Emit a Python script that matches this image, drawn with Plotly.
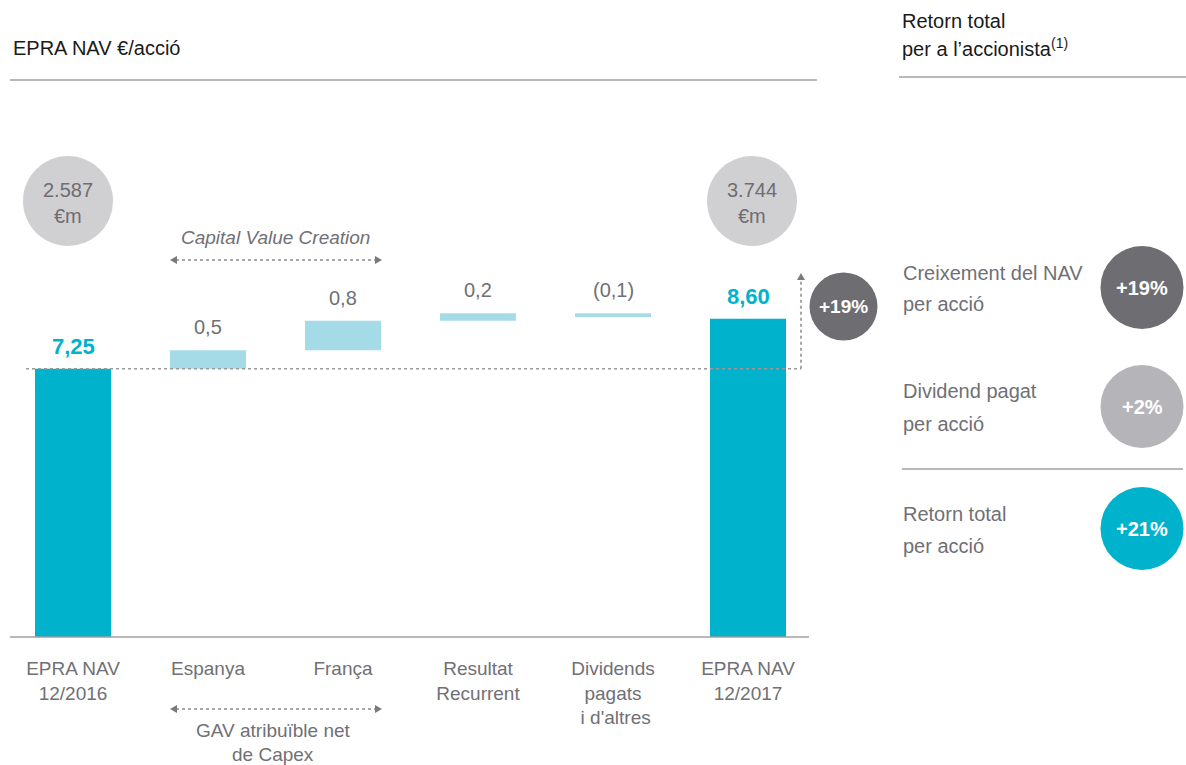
import plotly.graph_objects as go

# ---- data -------------------------------------------------------------
categories = [
    "EPRA NAV<br>12/2016",
    "Espanya",
    "França",
    "Resultat<br>Recurrent",
    "Dividends<br>pagats<br> i d'altres",
    "EPRA NAV<br>12/2017",
]
nav_start = 7.25
nav_end = 8.60
changes = [0.5, 0.8, 0.2, -0.1]          # Espanya, França, Resultat, Dividends
market_cap = ["2.587", "3.744"]          # €m, start / end
nav_growth = "+19%"
return_labels = [
    ["Creixement del NAV", "per acció"],
    ["Dividend pagat", "per acció"],
    ["Retorn total", "per acció"],
]
return_values = ["+19%", "+2%", "+21%"]

# ---- page geometry ----------------------------------------------------
W, H = 1186, 765
AXIS_Y = 637          # pixel row of the zero line
PX_PER_UNIT = 37.0

FONT = "Liberation Sans, Arial, Helvetica, sans-serif"
CYAN = "#00b2cc"
CYAN_LIGHT = "#a4dbe6"
GREY_TXT = "#707075"
GREY_DARK = "#6e6d72"
GREY_LIGHT = "#d0d0d2"
GREY_MID = "#b5b5b9"
RULE = "#a0a0a0"


def px(x):
    return x / W


def py(y):
    return 1 - y / H


def fmt(v, decimals=1):
    s = f"{abs(v):.{decimals}f}".replace(".", ",")
    return f"({s})" if v < 0 else s


# waterfall bases
bases, heights, tops = [], [], []
cum = nav_start
for c in changes:
    bases.append(min(cum, cum + c))
    heights.append(abs(c))
    tops.append(max(cum, cum + c))
    cum += c

fig = go.Figure()
fig.add_trace(go.Bar(
    x=[categories[0], categories[-1]],
    y=[nav_start, nav_end],
    marker=dict(color=CYAN, line=dict(width=0)),
    hoverinfo="skip",
))
fig.add_trace(go.Bar(
    x=categories[1:5],
    y=heights,
    base=bases,
    marker=dict(color=CYAN_LIGHT, line=dict(width=0)),
    hoverinfo="skip",
))

annotations = []
shapes = []

# value labels over the bars
annotations.append(dict(x=categories[0], y=nav_start, xref="x", yref="y",
                        text=f"<b>{fmt(nav_start, 2)}</b>", showarrow=False,
                        yanchor="bottom", yshift=8,
                        font=dict(family=FONT, size=22, color=CYAN)))
annotations.append(dict(x=categories[-1], y=nav_end, xref="x", yref="y",
                        text=f"<b>{fmt(nav_end, 2)}</b>", showarrow=False,
                        yanchor="bottom", yshift=8,
                        font=dict(family=FONT, size=22, color=CYAN)))
for cat, c, top in zip(categories[1:5], changes, tops):
    annotations.append(dict(x=cat, y=top, xref="x", yref="y",
                            text=fmt(c), showarrow=False,
                            yanchor="bottom", yshift=10,
                            font=dict(family=FONT, size=20, color=GREY_TXT)))

# titles
annotations.append(dict(x=px(11), y=py(48), xref="paper", yref="paper",
                        text="EPRA NAV €/acció", showarrow=False,
                        xanchor="left", yanchor="middle",
                        font=dict(family=FONT, size=20, color="#1a1a1a")))
annotations.append(dict(x=px(900), y=py(21), xref="paper", yref="paper",
                        text="Retorn total", showarrow=False,
                        xanchor="left", yanchor="middle",
                        font=dict(family=FONT, size=20, color="#1a1a1a")))
annotations.append(dict(x=px(900), y=py(47), xref="paper", yref="paper",
                        text="per a l’accionista<sup>(1)</sup>", showarrow=False,
                        xanchor="left", yanchor="middle",
                        font=dict(family=FONT, size=20, color="#1a1a1a")))

# rules
shapes.append(dict(type="line", xref="paper", yref="paper",
                   x0=px(10), x1=px(817), y0=py(80), y1=py(80),
                   line=dict(color=RULE, width=1.5)))
shapes.append(dict(type="line", xref="paper", yref="paper",
                   x0=px(899), x1=px(1186), y0=py(77), y1=py(77),
                   line=dict(color="#707070", width=1)))
shapes.append(dict(type="line", xref="paper", yref="paper",
                   x0=px(10), x1=px(809), y0=py(AXIS_Y), y1=py(AXIS_Y),
                   line=dict(color=RULE, width=1.5)))
shapes.append(dict(type="line", xref="paper", yref="paper",
                   x0=px(902), x1=px(1183), y0=py(469), y1=py(469),
                   line=dict(color=RULE, width=1.5)))

# reference line at the starting NAV and growth arrow
shapes.append(dict(type="line", xref="paper", yref="y",
                   x0=px(26), x1=px(801), y0=nav_start, y1=nav_start,
                   line=dict(color="#9a9a9a", width=1.5, dash="dot"),
                   layer="above"))
shapes.append(dict(type="line", xref="paper", yref="paper",
                   x0=px(801), x1=px(801), y0=py(AXIS_Y - nav_start * PX_PER_UNIT),
                   y1=py(280), line=dict(color="#8a8a8a", width=1.5, dash="dot")))


def tri(tip, direction):
    x, y = tip
    if direction == "up":
        pts = [(x, y), (x - 4, y + 7), (x + 4, y + 7)]
    elif direction == "left":
        pts = [(x, y), (x + 7, y - 4), (x + 7, y + 4)]
    else:
        pts = [(x, y), (x - 7, y - 4), (x - 7, y + 4)]
    path = "M " + " L ".join(f"{px(a):.5f},{py(b):.5f}" for a, b in pts) + " Z"
    return dict(type="path", xref="paper", yref="paper", path=path,
                fillcolor="#7a7a7a", line=dict(width=0))


shapes.append(tri((801, 273), "up"))

# double-headed dotted arrows above and below Espanya / França
for yy in (260, 709):
    shapes.append(dict(type="line", xref="paper", yref="paper",
                       x0=px(176), x1=px(376), y0=py(yy), y1=py(yy),
                       line=dict(color="#8a8a8a", width=1.3, dash="dot")))
    shapes.append(tri((170, yy), "left"))
    shapes.append(tri((382, yy), "right"))

annotations.append(dict(x=px(275), y=py(237), xref="paper", yref="paper",
                        text="<i>Capital Value Creation</i>", showarrow=False,
                        xanchor="center", yanchor="middle",
                        font=dict(family=FONT, size=19, color=GREY_TXT)))
annotations.append(dict(x=px(273), y=py(730), xref="paper", yref="paper",
                        text="GAV atribuïble net", showarrow=False,
                        xanchor="center", yanchor="middle",
                        font=dict(family=FONT, size=19, color=GREY_TXT)))
annotations.append(dict(x=px(273), y=py(754), xref="paper", yref="paper",
                        text="de Capex", showarrow=False,
                        xanchor="center", yanchor="middle",
                        font=dict(family=FONT, size=19, color=GREY_TXT)))


def circle(cx, cy, r, color):
    return dict(type="circle", xref="paper", yref="paper",
                x0=px(cx - r), x1=px(cx + r), y0=py(cy + r), y1=py(cy - r),
                fillcolor=color, line=dict(width=0), layer="above")


# market-cap bubbles
for (cx, cy), val in zip([(68, 201), (752, 201)], market_cap):
    shapes.append(circle(cx, cy, 45, GREY_LIGHT))
    annotations.append(dict(x=px(cx), y=py(190), xref="paper", yref="paper",
                            text=val, showarrow=False,
                            xanchor="center", yanchor="middle",
                            font=dict(family=FONT, size=20, color=GREY_DARK)))
    annotations.append(dict(x=px(cx), y=py(216), xref="paper", yref="paper",
                            text="€m", showarrow=False,
                            xanchor="center", yanchor="middle",
                            font=dict(family=FONT, size=20, color=GREY_DARK)))

# NAV growth bubble
shapes.append(circle(843.5, 306.5, 34, GREY_DARK))
annotations.append(dict(x=px(843.5), y=py(306.5), xref="paper", yref="paper",
                        text=f"<b>{nav_growth}</b>", showarrow=False,
                        xanchor="center", yanchor="middle",
                        font=dict(family=FONT, size=19, color="white")))

# shareholder return panel
panel_y = [287.5, 406.5, 528.5]
panel_colors = [GREY_DARK, GREY_MID, CYAN]
for cy, lines, val, col in zip(panel_y, return_labels, return_values, panel_colors):
    shapes.append(circle(1142, cy, 41.5, col))
    annotations.append(dict(x=px(1142), y=py(cy), xref="paper", yref="paper",
                            text=f"<b>{val}</b>", showarrow=False,
                            xanchor="center", yanchor="middle",
                            font=dict(family=FONT, size=20, color="white")))
    for i, line in enumerate(lines):
        annotations.append(dict(x=px(901), y=py(cy - 15 + 32 * i), xref="paper", yref="paper",
                                text=line, showarrow=False,
                                xanchor="left", yanchor="middle",
                                font=dict(family=FONT, size=20, color=GREY_TXT)))

fig.update_layout(
    width=W, height=H,
    margin=dict(l=0, r=0, t=0, b=0),
    paper_bgcolor="white", plot_bgcolor="white",
    barmode="overlay", bargap=0.437,
    showlegend=False,
    xaxis=dict(domain=[px(5.5), px(815.5)], type="category",
               categoryorder="array", categoryarray=categories,
               showline=False, showgrid=False, zeroline=False,
               ticks="outside", ticklen=14, tickcolor="rgba(0,0,0,0)",
               tickfont=dict(family=FONT, size=19, color=GREY_TXT),
               fixedrange=True),
    yaxis=dict(domain=[1 - AXIS_Y / H, 1], range=[0, AXIS_Y / PX_PER_UNIT],
               visible=False, fixedrange=True),
    shapes=shapes,
    annotations=annotations,
)

fig.write_html("out.html")
